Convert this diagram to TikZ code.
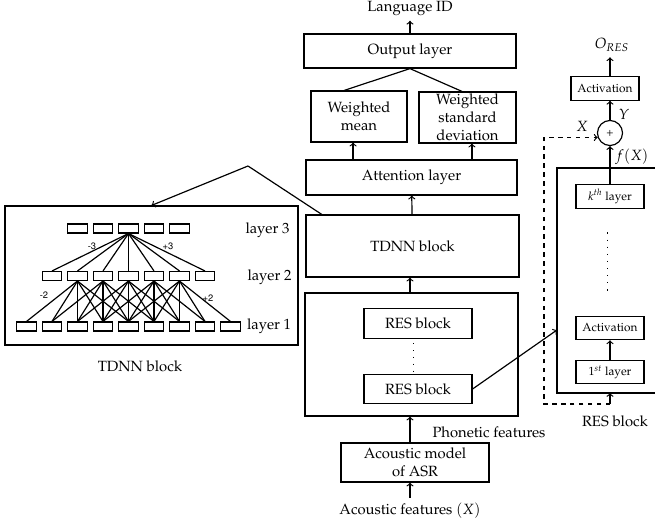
\documentclass[tikz,border=0pt]{standalone}
\usepackage[T1]{fontenc}
\usepackage{mathpazo}
\usepackage[scaled=0.9]{helvet}
\begin{document}
\begin{tikzpicture}[x=0.675pt,y=-0.675pt,thick,
  blk/.style={draw,rectangle,inner sep=1pt,align=center},
  cell/.style={draw,rectangle,inner sep=0pt,minimum width=13pt,minimum height=6pt},
  sml/.style={blk,font=\footnotesize,minimum width=45.9pt,minimum height=15.8pt},
  tap/.style={font=\scriptsize\sffamily}]
  \useasboundingbox (0,0) rectangle (655,529);

  \node[blk,minimum width=143.1pt,minimum height=23pt] (out) at (410,51) {Output layer};
  \node (lang) at (410,8) {Language ID}
  edge[<-] (out);
  \node[blk,minimum width=64.8pt,minimum height=34.4pt] (mean) at (359,116.5) {Weighted\\mean};
  \node[blk,minimum width=65.5pt,minimum height=34.4pt,inner sep=0pt] (std) at (467.5,117.5) {Weighted\\standard\\deviation};
  \node[blk,minimum width=142.4pt,minimum height=23.6pt] (att) at (411.5,177.5) {Attention layer};
  \node[blk,minimum width=143.8pt,minimum height=41.9pt] (tdnn) at (412.5,246) {TDNN block}
  edge[->] (att);
  \node[blk,minimum width=143.8pt,minimum height=83pt] (res) at (411.5,354.5) {};
  \node[blk,minimum width=72.9pt,minimum height=19.9pt] (res1) at (418,323.5) {RES block};
  \node[blk,minimum width=72.9pt,minimum height=19.9pt] (res2) at (418,389) {RES block};
  \node[blk,minimum width=99.9pt,minimum height=26.3pt] (am) at (415,462.5) {Acoustic model\\of ASR};
  \node (feat) at (410,511) {Acoustic features $(X)$};
  \node[anchor=west] (phon) at (427,432) {Phonetic features};

  \draw[->] ([xshift=-4pt]mean.south |- att.north) -- ([xshift=-4pt]mean.south);
  \draw[->] ([xshift=3pt]std.south |- att.north) -- ([xshift=3pt]std.south);
  \draw ([xshift=-10pt]mean.north) -- (out.south);
  \draw ([xshift=-3.7pt]std.north) -- (out.south);
  \draw[->] (res.north -| 410,0) -- (tdnn.south -| 410,0);
  \draw[->] (am.north -| 410,0) -- (res.south -| 410,0);
  \draw[->] (feat.north -| 410,0) -- (am.south -| 410,0);
  \draw[loosely dotted,semithick,shorten <=3pt,shorten >=2pt] ([xshift=-3.4pt]res1.south) -- ([xshift=-3.4pt]res2.north);

  % zoom on the TDNN block
  \node[blk,minimum width=197.8pt,minimum height=93.8pt] (detail) at (151.5,275.5) {};
  \node (cap) at (140,366) {TDNN block};
  \coordinate (peak) at (248,166);
  \draw ([xshift=11pt]tdnn.north west) -- (peak);
  \draw[->] (peak) -- (detail.north);

  \foreach \i in {0,...,8} \node[cell] (a\i) at (26.5+25.5*\i,326.5) {};
  \foreach \i in {0,...,6} \node[cell] (b\i) at (52+25.5*\i,276) {};
  \foreach \i in {0,...,4} \node[cell] (c\i) at (77.5+25.5*\i,228.5) {};
  \foreach \i in {0,...,6} \draw (c2.south) -- (b\i.north);
  \foreach \k in {1,...,5} \foreach \d in {-2,...,2} {
    \pgfmathtruncatemacro\j{\k+1+\d}
    \draw (b\k.south) -- (a\j.north);
  }
  \node[tap] (m3) at (92,246) {-3};
  \node[tap] (p3) at (168,246) {+3};
  \node[tap] (m2) at (44,295) {-2};
  \node[tap] (p2) at (208,298) {+2};
  \node[anchor=west] (l3) at (240,230) {layer 3};
  \node[anchor=west] (l2) at (242,277) {layer 2};
  \node[anchor=west,inner sep=1pt] (l1) at (245,326) {layer 1};

  % inside of a RES block
  \coordinate (rtl) at (557,168);
  \coordinate (rbl) at (557,393);
  \draw (655,168) -- (rtl) -- (rbl) -- (655,393);
  \node[sml] (kth) at (610,196.5) {$k^{th}$ layer};
  \node[sml] (act1) at (610,328) {Activation};
  \node[sml] (first) at (610,372) {$1^{st}$ layer}
  edge[->] (act1);
  \draw[loosely dotted,shorten <=16pt,shorten >=17pt] ([xshift=-1.5pt]kth.south) -- ([xshift=-1.5pt]act1.north);
  \node[draw,circle,inner sep=0pt,minimum size=16.9pt,font=\footnotesize] (plus) at (610,133) {+};
  \node[sml] (act2) at (605,88.5) {Activation};
  \node (ores) at (612,45) {$O_{RES}$};
  \draw[->] (kth.north) -- (plus.south);
  \draw[->] (plus.north) -- (plus.north |- act2.south);
  \draw[->] (plus.north |- act2.north) -- (plus.north |- ores.south);
  \node (fx) at (632,157) {$f(X)$};
  \node (xin) at (582,126) {$X$};
  \node (yout) at (624,114) {$Y$};
  \coordinate (in) at (610,404);
  \coordinate (skip) at (544,404);
  \draw[->] (in) -- (in |- rbl);
  \draw[dashed,->] (in) -- (skip) |- (plus.200);
  \node (rescap) at (615,421) {RES block};

  \coordinate (hook) at (557,330);
  \draw[->] (res2.east) -- (hook);
\end{tikzpicture}
\end{document}
